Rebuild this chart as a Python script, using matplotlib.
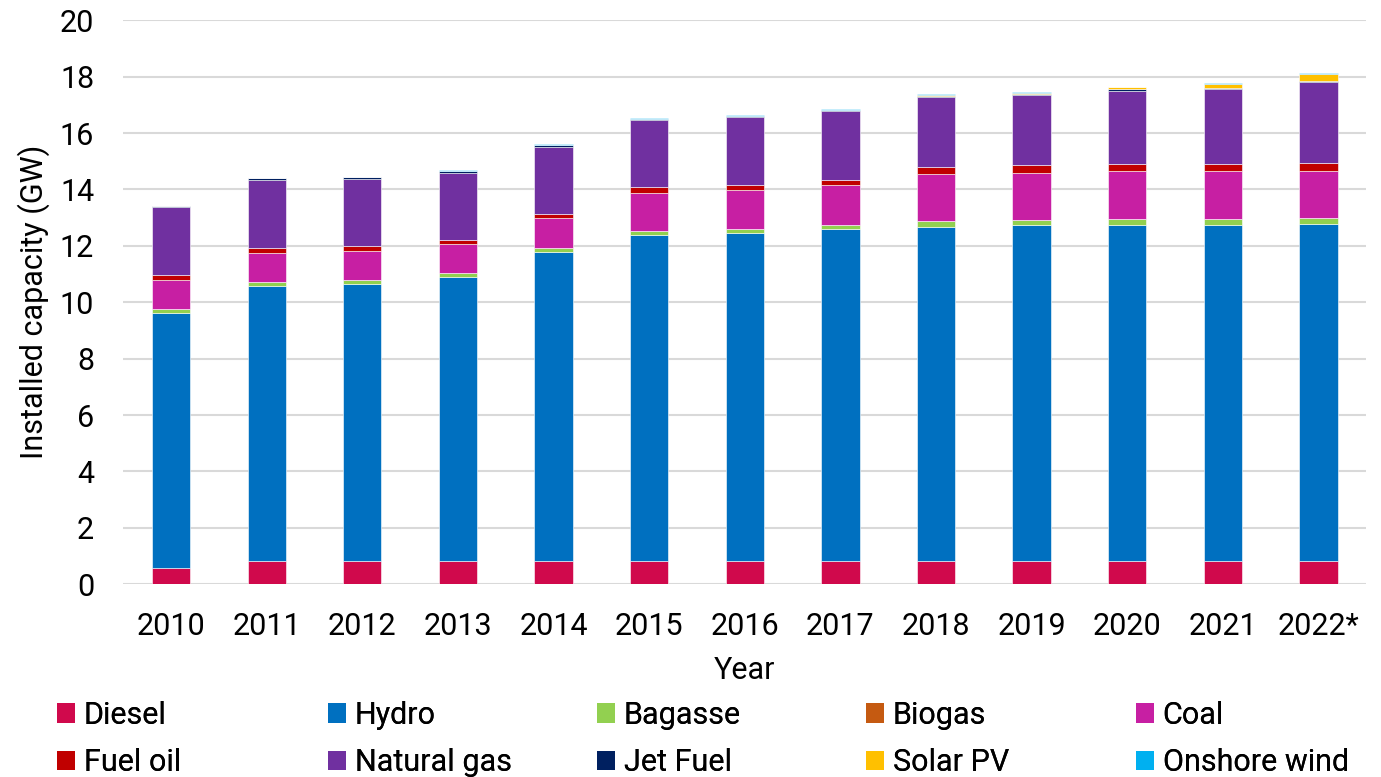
import numpy as np
import matplotlib.pyplot as plt
from matplotlib.patches import Patch

plt.rcParams['font.family'] = ['Roboto', 'DejaVu Sans']

years = ['2010', '2011', '2012', '2013', '2014', '2015', '2016',
         '2017', '2018', '2019', '2020', '2021', '2022*']

# installed capacity in GW
diesel = [0.57, 0.82, 0.82, 0.82, 0.82, 0.82, 0.82, 0.82, 0.82, 0.82, 0.82, 0.82, 0.82]
hydro = [9.05, 9.76, 9.83, 10.07, 10.96, 11.56, 11.64, 11.76, 11.85, 11.91, 11.92, 11.92, 11.96]
bagasse = [0.13, 0.15, 0.14, 0.14, 0.15, 0.15, 0.14, 0.17, 0.21, 0.19, 0.22, 0.22, 0.22]
biogas = [0.0, 0.0, 0.0, 0.0, 0.0, 0.0, 0.0, 0.0, 0.0, 0.0, 0.0, 0.0, 0.0]
coal = [1.03, 1.02, 1.02, 1.02, 1.05, 1.36, 1.39, 1.40, 1.65, 1.67, 1.68, 1.68, 1.66]
fuel_oil = [0.17, 0.19, 0.18, 0.17, 0.16, 0.19, 0.15, 0.17, 0.27, 0.26, 0.25, 0.25, 0.26]
natural_gas = [2.41, 2.39, 2.38, 2.38, 2.38, 2.39, 2.44, 2.45, 2.47, 2.50, 2.61, 2.66, 2.88]
jet_fuel = [0.04, 0.06, 0.06, 0.05, 0.05, 0.04, 0.04, 0.03, 0.06, 0.05, 0.05, 0.06, 0.06]
solar_pv = [0.0, 0.0, 0.0, 0.0, 0.0, 0.0, 0.0, 0.01, 0.01, 0.02, 0.08, 0.14, 0.23]
onshore_wind = [0.01, 0.01, 0.01, 0.03, 0.03, 0.02, 0.03, 0.03, 0.03, 0.03, 0.01, 0.03, 0.04]

series = [
    ('Diesel', diesel, '#D0094C'),
    ('Hydro', hydro, '#0070C0'),
    ('Bagasse', bagasse, '#92D050'),
    ('Biogas', biogas, '#C55A11'),
    ('Coal', coal, '#C71FA3'),
    ('Fuel oil', fuel_oil, '#C00000'),
    ('Natural gas', natural_gas, '#7030A0'),
    ('Jet Fuel', jet_fuel, '#002060'),
    ('Solar PV', solar_pv, '#FFC000'),
    ('Onshore wind', onshore_wind, '#00B0F0'),
]

FS = 22

fig = plt.figure(figsize=(13.81, 7.77), dpi=100)
ax = fig.add_axes([0.0893, 0.248, 0.9, 0.726])

x = np.arange(len(years))
bottom = np.zeros(len(years))
for name, vals, col in series:
    vals = np.array(vals)
    ax.bar(x, vals, 0.4, bottom=bottom, color=col, edgecolor='white',
           linewidth=0.4, zorder=3)
    bottom += vals

ax.set_xlim(-0.5, len(years) - 0.5)
ax.set_ylim(0, 20)
ax.set_yticks(np.arange(0, 21, 2))
ax.set_xticks(x)
ax.set_xticklabels(years)
ax.yaxis.grid(True, color='#D9D9D9', linewidth=1.5, zorder=0)
ax.tick_params(axis='both', length=0, labelsize=FS, colors='black')
ax.tick_params(axis='x', pad=20)
ax.tick_params(axis='y', pad=21)
for s in ax.spines.values():
    s.set_visible(False)
ax.set_xlabel('Year', fontsize=FS, labelpad=11)
ax.set_ylabel('Installed capacity (GW)', fontsize=FS, labelpad=7)

# legend: 5 evenly spaced columns, 2 rows, filled row by row
handles = [Patch(facecolor=col, label=name) for name, _, col in series]
col_x = [57, 328, 597, 866, 1136]
for c in range(5):
    pair = [handles[c], handles[c + 5]]
    leg = fig.legend(pair, [h.get_label() for h in pair],
                     loc='center left', bbox_to_anchor=(col_x[c] / 1381, 1 - 739 / 777),
                     frameon=False, fontsize=FS, handlelength=0.6, handleheight=0.6,
                     handletextpad=0.27, labelspacing=0.6, borderpad=0,
                     borderaxespad=0)
    fig.add_artist(leg)

fig.savefig('out.png', dpi=100)
